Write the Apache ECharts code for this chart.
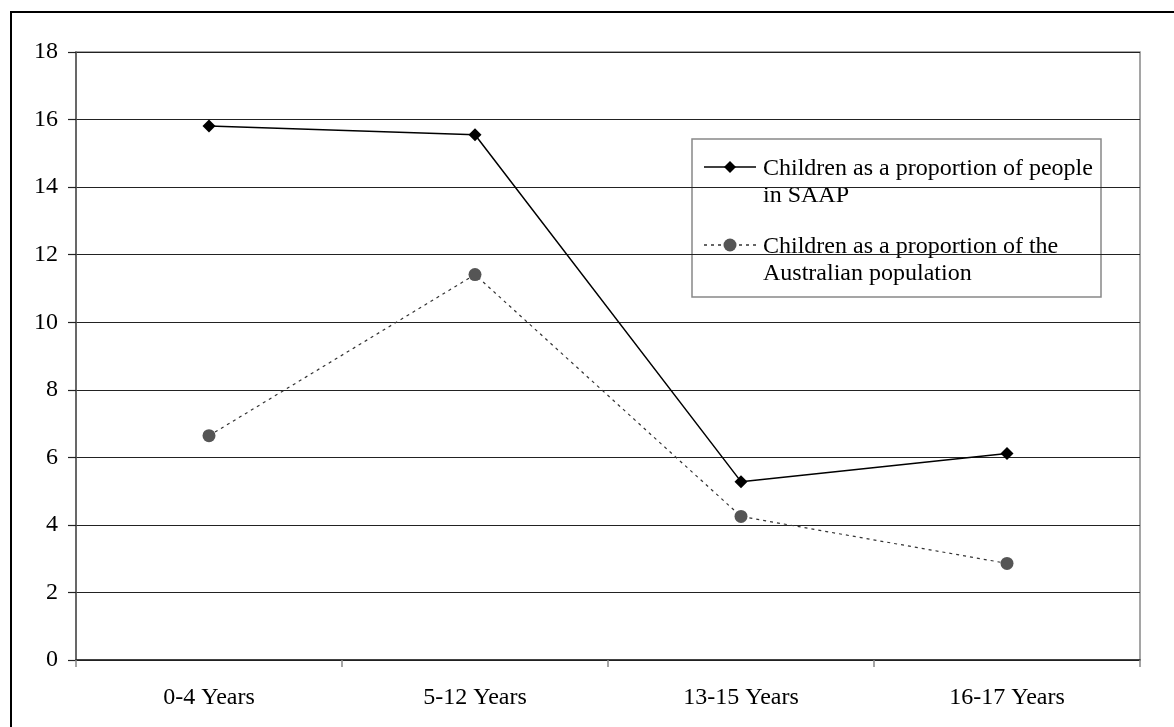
<!DOCTYPE html>
<html>
<head>
<meta charset="utf-8">
<script src="https://cdn.jsdelivr.net/npm/echarts@6/dist/echarts.min.js"></script>
<style>
  html, body { margin: 0; padding: 0; background: #fff; }
  #chart { width: 1174px; height: 727px; }
</style>
</head>
<body>
<div id="chart"></div>
<script>
// Age groups and the two proportion series (per cent)
var categories = ['0-4 Years', '5-12 Years', '13-15 Years', '16-17 Years'];
var saapShare = [15.81, 15.55, 5.28, 6.11];
var populationShare = [6.64, 11.41, 4.25, 2.86];
var seriesNames = [
  'Children as a proportion of people\nin SAAP',
  'Children as a proportion of the\nAustralian population'
];

var font = 'Liberation Serif, Times New Roman, serif';
var saapColor = '#000';
var popLine = '#333';
var popMarker = '#555';

// Key box: each entry's sample line sits level with the first line of its label
function keyEntry(top, label, lineStyle, marker) {
  return {
    type: 'group',
    children: [
      {
        type: 'line',
        shape: { x1: 704, y1: top, x2: 756, y2: top },
        style: lineStyle
      },
      marker,
      {
        type: 'text',
        x: 763, y: top - 12,
        style: {
          text: label,
          font: '24px ' + font,
          fill: '#000',
          lineHeight: 27,
          verticalAlign: 'top'
        }
      }
    ]
  };
}

var chart = echarts.init(document.getElementById('chart'), null, { renderer: 'canvas' });

chart.setOption({
  animation: false,
  backgroundColor: '#fff',
  textStyle: { fontFamily: font },
  graphic: [
    {
      type: 'rect',
      shape: { x: 11, y: 12, width: 1180, height: 740 },
      style: { fill: 'none', stroke: '#000', lineWidth: 2 },
      silent: true
    },
    {
      type: 'group',
      z: 100,
      children: [
        {
          type: 'rect',
          shape: { x: 692, y: 139, width: 409, height: 158 },
          style: { fill: '#fff', stroke: '#888', lineWidth: 1.5 }
        },
        keyEntry(167, seriesNames[0],
          { stroke: saapColor, lineWidth: 1.5 },
          {
            type: 'polygon',
            shape: { points: [[730, 161], [736, 167], [730, 173], [724, 167]] },
            style: { fill: saapColor }
          }),
        keyEntry(245, seriesNames[1],
          { stroke: popLine, lineWidth: 1.3, lineDash: [3, 4] },
          {
            type: 'circle',
            shape: { cx: 730, cy: 245, r: 6.5 },
            style: { fill: popMarker }
          })
      ]
    }
  ],
  grid: {
    left: 76, right: 34, top: 52, bottom: 67,
    show: true, borderColor: '#888', borderWidth: 1.5, backgroundColor: 'transparent'
  },
  xAxis: {
    type: 'category',
    data: categories,
    boundaryGap: true,
    axisLine: { lineStyle: { color: '#222', width: 1.5 } },
    axisTick: { show: true, length: 7, lineStyle: { color: '#888', width: 1.5 } },
    axisLabel: { fontFamily: font, fontSize: 24, color: '#000', margin: 26 },
    splitLine: { show: false }
  },
  yAxis: {
    type: 'value',
    min: 0, max: 18, interval: 2,
    axisLine: { show: true, lineStyle: { color: '#555', width: 1.5 } },
    axisTick: { show: true, length: 8, lineStyle: { color: '#222', width: 1.2 } },
    axisLabel: { fontFamily: font, fontSize: 24, color: '#000', margin: 18 },
    splitLine: { show: true, lineStyle: { color: '#222', width: 1.2 } }
  },
  series: [
    {
      name: seriesNames[0],
      type: 'line',
      data: saapShare,
      symbol: 'diamond',
      symbolSize: 13,
      itemStyle: { color: saapColor },
      lineStyle: { color: saapColor, width: 1.5 },
      z: 3
    },
    {
      name: seriesNames[1],
      type: 'line',
      data: populationShare,
      symbol: 'circle',
      symbolSize: 13,
      itemStyle: { color: popMarker },
      lineStyle: { color: popLine, width: 1.2, type: [3, 4] },
      z: 2
    }
  ]
});
</script>
</body>
</html>
